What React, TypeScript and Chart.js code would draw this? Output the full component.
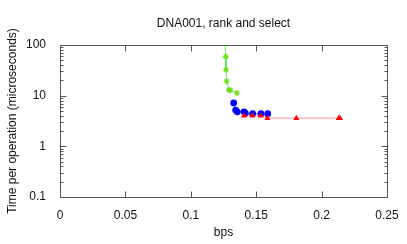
import React, { useEffect, useRef } from "react";
import { Chart, registerables } from "chart.js";

Chart.register(...registerables);

const TITLE = "DNA001, rank and select";
const X_LABEL = "bps";
const Y_LABEL = "Time per operation (microseconds)";

const xTicks = [0, 0.05, 0.1, 0.15, 0.2, 0.25];
const xTickLabels = ["0", "0.05", "0.1", "0.15", "0.2", "0.25"];
const yTicks = [0.1, 1, 10, 100];
const yTickLabels = ["0.1", "1", "10", "100"];

const redX = [0.1407, 0.1471, 0.1534, 0.1586, 0.1807, 0.2131, 0.2141];
const redY = [4.0, 4.0, 4.0, 3.6, 3.6, 3.6, 3.6];

const greenX = [0.1258, 0.1267, 0.1269, 0.1274, 0.1292, 0.1303, 0.1353];
const greenY = [150, 59, 32.5, 19.3, 13.0, 12.8, 11.3];

const blueX = [0.1328, 0.1343, 0.1355, 0.1407, 0.1417, 0.1473, 0.1536, 0.1588];
const blueY = [7.2, 5.2, 4.8, 4.8, 4.5, 4.4, 4.4, 4.4];

const FONT = "'Liberation Sans', Arial, sans-serif";
const FS = 12;

const zip = (xs: number[], ys: number[]) => xs.map((x, i) => ({ x, y: ys[i] }));

const framePlugin = {
  id: "gnuplotFrame",
  afterDraw(chart: any) {
    const { ctx, chartArea } = chart;
    const xs = chart.scales.x;
    const ys = chart.scales.y;
    const l = Math.round(chartArea.left) + 0.5;
    const r = Math.round(chartArea.right) + 0.5;
    const t = Math.round(chartArea.top) + 0.5;
    const b = Math.round(chartArea.bottom) + 0.5;
    ctx.save();
    ctx.strokeStyle = "#555";
    ctx.lineWidth = 1;
    ctx.beginPath();
    ctx.rect(l, t, r - l, b - t);
    xTicks.forEach((v) => {
      const px = Math.round(xs.getPixelForValue(v)) + 0.5;
      ctx.moveTo(px, b);
      ctx.lineTo(px, b - 6);
      ctx.moveTo(px, t);
      ctx.lineTo(px, t + 6);
    });
    yTicks.forEach((v, i) => {
      const py = Math.round(ys.getPixelForValue(v)) + 0.5;
      ctx.moveTo(l, py);
      ctx.lineTo(l + 6, py);
      ctx.moveTo(r, py);
      ctx.lineTo(r - 6, py);
      if (i < yTicks.length - 1) {
        for (let m = 2; m <= 9; m++) {
          const pm = Math.round(ys.getPixelForValue(v * m)) + 0.5;
          ctx.moveTo(l, pm);
          ctx.lineTo(l + 3, pm);
          ctx.moveTo(r, pm);
          ctx.lineTo(r - 3, pm);
        }
      }
    });
    ctx.stroke();
    ctx.fillStyle = "#111";
    ctx.font = `${FS}px ${FONT}`;
    ctx.textAlign = "center";
    ctx.textBaseline = "alphabetic";
    ctx.fillText(TITLE, (chartArea.left + chartArea.right) / 2, 27);
    ctx.restore();
  },
};

export default function App() {
  const ref = useRef<HTMLCanvasElement | null>(null);

  useEffect(() => {
    if (!ref.current) return;
    const chart = new Chart(ref.current, {
      type: "line",
      data: {
        datasets: [
          {
            label: "red",
            data: zip(redX, redY),
            borderColor: "rgba(255,60,60,0.55)",
            backgroundColor: "#ff0000",
            pointBorderColor: "#ff0000",
            pointBackgroundColor: "#ff0000",
            pointStyle: "triangle",
            pointRadius: 3.5,
            borderWidth: 1,
            pointBorderWidth: 0,
          },
          {
            label: "green",
            data: zip(greenX, greenY),
            borderColor: "rgba(0,220,0,0.55)",
            pointBorderColor: "rgba(110,220,20,0.95)",
            pointBackgroundColor: "rgba(110,220,20,0.95)",
            pointStyle: "star",
            pointRadius: 3,
            borderWidth: 1,
            pointBorderWidth: 1.2,
          },
          {
            label: "blue",
            data: zip(blueX, blueY),
            borderColor: "rgba(0,0,255,0.5)",
            pointBorderColor: "#0000ff",
            pointBackgroundColor: "#0000ff",
            pointStyle: "circle",
            pointRadius: 3.4,
            borderWidth: 1,
            pointBorderWidth: 0,
          },
        ],
      },
      options: {
        animation: false,
        responsive: false,
        events: [],
        layout: { padding: { top: 45, right: 20, left: 0, bottom: 0 } },
        plugins: {
          legend: { display: false },
          title: { display: false },
          tooltip: { enabled: false },
        },
        scales: {
          x: {
            type: "linear",
            min: 0,
            max: 0.25,
            grid: { display: false },
            border: { display: false },
            afterBuildTicks: (s: any) => {
              s.ticks = xTicks.map((v) => ({ value: v }));
            },
            afterFit: (s: any) => {
              s.height = 47;
            },
            ticks: {
              autoSkip: false,
              maxRotation: 0,
              padding: 3,
              color: "#111",
              font: { family: FONT, size: FS },
              callback: (v: any) => {
                const i = xTicks.findIndex((t) => Math.abs(t - Number(v)) < 1e-9);
                return i >= 0 ? xTickLabels[i] : "";
              },
            },
            title: {
              display: true,
              text: X_LABEL,
              color: "#111",
              font: { family: FONT, size: FS },
              padding: { top: 0, bottom: 4 },
            },
          },
          y: {
            type: "logarithmic",
            min: 0.1,
            max: 100,
            grid: { display: false },
            border: { display: false },
            afterBuildTicks: (s: any) => {
              s.ticks = yTicks.map((v) => ({ value: v }));
            },
            afterFit: (s: any) => {
              s.width = 60;
            },
            ticks: {
              autoSkip: false,
              padding: 6,
              color: "#111",
              font: { family: FONT, size: FS },
              callback: (v: any) => {
                const i = yTicks.findIndex((t) => Math.abs(t - Number(v)) < 1e-9 * t + 1e-12);
                return i >= 0 ? yTickLabels[i] : "";
              },
            },
            title: {
              display: true,
              text: Y_LABEL,
              color: "#111",
              font: { family: FONT, size: FS },
              padding: { top: 5, bottom: 0 },
            },
          },
        },
      },
      plugins: [framePlugin],
    });
    return () => chart.destroy();
  }, []);

  return (
    <div style={{ position: "absolute", left: 0, top: 0, width: 407, height: 244, background: "#fff" }}>
      <canvas ref={ref} width={407} height={244} style={{ width: 407, height: 244, display: "block" }} />
    </div>
  );
}
